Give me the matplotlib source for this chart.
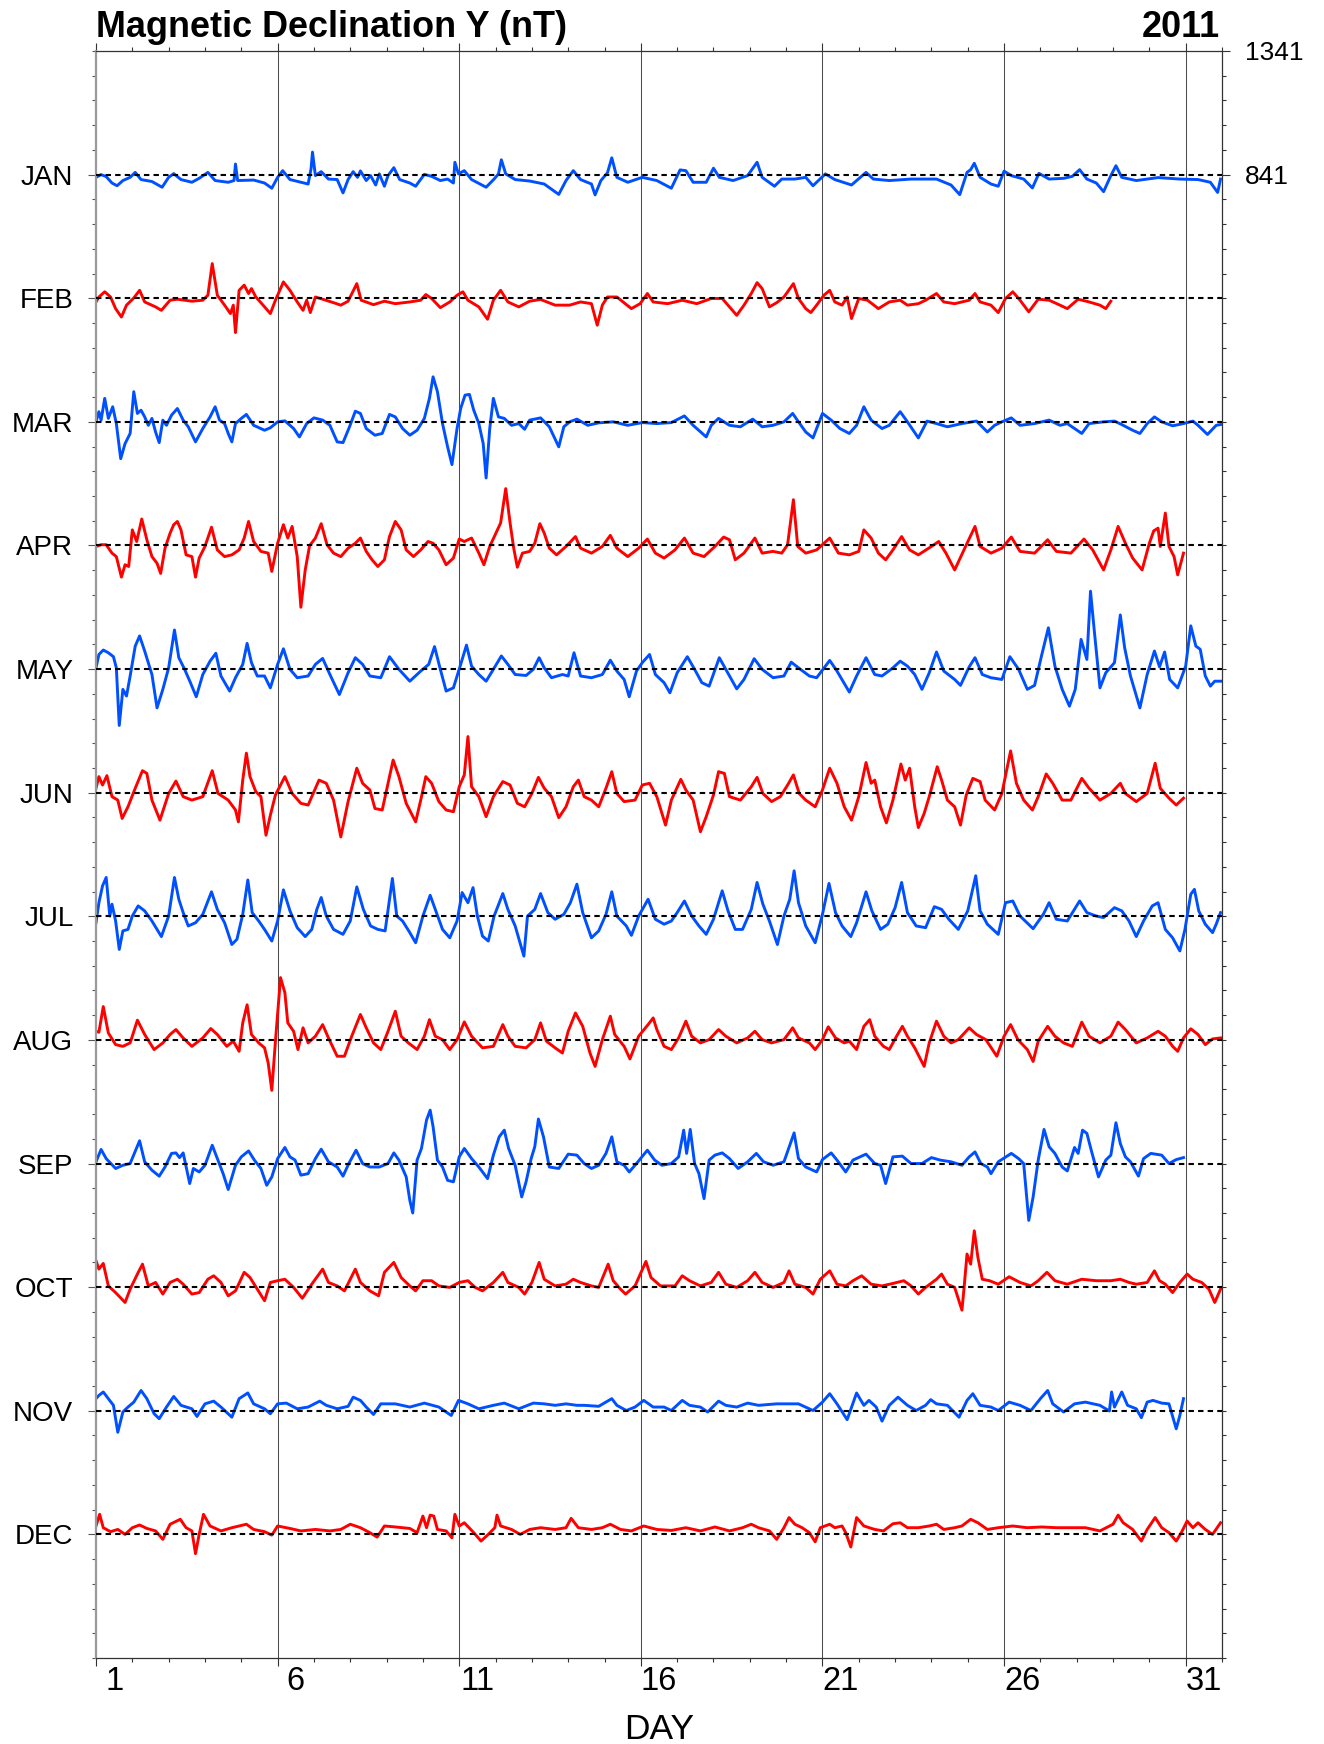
import numpy as np
import matplotlib
matplotlib.use("Agg")
import matplotlib.pyplot as plt
from matplotlib.ticker import FixedLocator
from matplotlib.transforms import blended_transform_factory

plt.rcParams['font.family'] = ['Liberation Sans', 'DejaVu Sans']

TITLE = "Magnetic Declination Y (nT)"
YEAR = "2011"
XLABEL = "DAY"
MONTHS = ["JAN", "FEB", "MAR", "APR", "MAY", "JUN",
          "JUL", "AUG", "SEP", "OCT", "NOV", "DEC"]
JAN_LEVEL = 841          # nT level of the JAN baseline (right axis label)
SPACING = 500            # nT between consecutive month baselines
RIGHT_LABELS = [1341, 841]
DAY_TICKS = [1, 6, 11, 16, 21, 26, 31]

# (day, deviation in nT from the month's baseline)
jan = [(1.00,-11),(1.14,0),(1.28,-8),(1.44,-34),(1.58,-45),(1.74,-24),(1.94,-11),(2.08,9),(2.24,-20),(2.54,-28),(2.82,-51),(3.00,-11),(3.14,4),(3.34,-20),(3.64,-31),(3.84,-15),(4.08,9),(4.28,-24),(4.64,-31),(4.80,-24),(4.84,43),(4.90,-24),(5.34,-22),(5.64,-34),(5.84,-55),(6.00,-11),(6.14,16),(6.34,-20),(6.84,-38),(6.92,23),(6.96,91),(7.04,-4),(7.20,12),(7.40,-18),(7.64,-20),(7.80,-74),(7.94,-20),(8.08,12),(8.20,-11),(8.28,15),(8.44,-24),(8.56,-4),(8.70,-42),(8.80,3),(8.94,-47),(9.04,-4),(9.20,28),(9.36,-20),(9.64,-34),(9.80,-47),(10.04,1),(10.24,-7),(10.48,-24),(10.68,-18),(10.84,-34),(10.88,50),(10.98,3),(11.14,16),(11.34,-20),(11.74,-51),(11.96,-18),(12.08,3),(12.16,60),(12.28,3),(12.54,-20),(12.94,-26),(13.34,-38),(13.74,-80),(13.94,-24),(14.14,16),(14.34,-20),(14.64,-38),(14.74,-82),(14.90,-24),(15.08,7),(15.20,68),(15.34,-11),(15.64,-31),(16.04,-11),(16.44,-24),(16.84,-55),(17.08,19),(17.24,16),(17.44,-31),(17.80,-31),(18.00,26),(18.16,-11),(18.54,-24),(18.94,-4),(19.20,50),(19.34,-11),(19.68,-47),(19.88,-18),(20.24,-18),(20.54,-11),(20.74,-45),(21.08,3),(21.34,-20),(21.80,-42),(22.20,9),(22.40,-18),(22.84,-24),(23.44,-18),(24.14,-18),(24.54,-42),(24.78,-81),(24.98,9),(25.08,20),(25.18,46),(25.34,-11),(25.64,-38),(25.84,-47),(26.00,14),(26.20,-4),(26.54,-18),(26.78,-54),(26.96,5),(27.24,-18),(27.64,-15),(27.88,-7),(28.08,20),(28.28,-18),(28.54,-34),(28.74,-69),(28.94,-4),(29.08,36),(29.24,-11),(29.64,-24),(30.24,-12),(30.84,-18),(31.34,-20),(31.68,-31),(31.88,-72),(31.96,-18)]
feb = [(1.00,-15),(1.08,5),(1.24,26),(1.40,5),(1.54,-42),(1.70,-76),(1.84,-28),(2.04,1),(2.20,32),(2.34,-15),(2.64,-35),(2.80,-49),(3.04,-8),(3.24,-4),(3.64,-12),(3.94,-8),(4.08,12),(4.20,140),(4.34,12),(4.54,-28),(4.70,-62),(4.78,-28),(4.84,-139),(4.94,32),(5.08,53),(5.20,19),(5.28,39),(5.40,5),(5.60,-28),(5.80,-62),(5.94,-8),(6.16,66),(6.34,32),(6.54,-15),(6.70,-49),(6.80,-8),(6.90,-58),(7.04,5),(7.24,-4),(7.54,-18),(7.74,-28),(7.94,-12),(8.18,59),(8.30,-8),(8.64,-26),(8.94,-12),(9.24,-22),(9.64,-15),(9.94,-8),(10.08,15),(10.24,-1),(10.48,-38),(10.74,-15),(10.94,12),(11.10,26),(11.24,-8),(11.54,-35),(11.78,-85),(11.94,-8),(12.14,32),(12.34,-15),(12.64,-35),(12.94,-12),(13.24,-5),(13.64,-28),(14.04,-28),(14.34,-15),(14.64,-22),(14.80,-109),(14.94,-28),(15.08,5),(15.34,5),(15.74,-42),(15.98,-22),(16.18,19),(16.34,-15),(16.74,-22),(17.14,-8),(17.54,-22),(17.94,-1),(18.24,-1),(18.44,-35),(18.64,-69),(18.84,-28),(19.04,19),(19.20,63),(19.34,39),(19.54,-35),(19.74,-18),(19.94,5),(20.20,59),(20.34,-1),(20.54,-42),(20.68,-58),(20.84,-28),(21.04,12),(21.20,32),(21.34,-15),(21.54,-28),(21.68,5),(21.80,-82),(22.00,-1),(22.24,-8),(22.54,-42),(22.84,-15),(23.14,-8),(23.34,-28),(23.64,-22),(23.84,-8),(24.14,19),(24.34,-15),(24.64,-22),(25.04,-8),(25.20,19),(25.34,-15),(25.64,-28),(25.84,-58),(26.04,-1),(26.24,26),(26.44,-8),(26.68,-55),(26.94,-4),(27.24,-8),(27.54,-28),(27.74,-42),(28.04,-4),(28.34,-15),(28.64,-28),(28.80,-42),(28.94,-12)]
mar = [(1.00,0),(1.08,41),(1.14,7),(1.24,95),(1.34,14),(1.46,61),(1.56,-7),(1.68,-149),(1.80,-88),(1.94,-47),(2.04,122),(2.14,34),(2.24,47),(2.34,20),(2.44,-14),(2.54,14),(2.64,-41),(2.74,-84),(2.84,7),(2.94,-14),(3.08,27),(3.24,54),(3.40,7),(3.54,-20),(3.74,-81),(3.94,-27),(4.14,20),(4.28,61),(4.40,7),(4.54,-7),(4.64,-47),(4.74,-81),(4.84,-7),(5.00,14),(5.14,30),(5.34,-14),(5.64,-34),(5.80,-24),(6.00,0),(6.20,4),(6.44,-27),(6.60,-61),(6.80,-7),(7.00,16),(7.24,7),(7.44,-14),(7.64,-81),(7.80,-84),(7.98,-20),(8.14,43),(8.28,34),(8.44,-27),(8.68,-54),(8.88,-47),(9.08,30),(9.24,20),(9.44,-27),(9.64,-54),(9.84,-34),(10.04,14),(10.18,95),(10.28,182),(10.40,122),(10.54,-7),(10.68,-101),(10.80,-173),(10.94,-27),(11.04,54),(11.16,108),(11.28,111),(11.40,47),(11.54,-7),(11.66,-88),(11.74,-227),(11.84,-27),(11.94,95),(12.08,20),(12.24,14),(12.44,-14),(12.64,-7),(12.80,-30),(12.94,7),(13.24,16),(13.48,-20),(13.74,-101),(13.88,-20),(14.04,0),(14.24,11),(14.54,-14),(14.84,-4),(15.24,0),(15.64,-14),(16.04,-3),(16.44,-7),(16.84,-3),(17.20,24),(17.44,-14),(17.80,-61),(17.94,-14),(18.14,14),(18.44,-14),(18.74,-20),(19.08,11),(19.34,-20),(19.64,-14),(19.94,0),(20.18,34),(20.34,0),(20.54,-41),(20.74,-65),(21.00,34),(21.24,7),(21.48,-27),(21.74,-47),(21.94,-14),(22.14,61),(22.34,7),(22.64,-27),(22.84,-14),(23.14,41),(23.34,0),(23.64,-65),(23.88,3),(24.14,-7),(24.44,-20),(24.84,-7),(25.24,3),(25.54,-41),(25.74,-14),(25.94,0),(26.20,16),(26.44,-14),(26.84,-7),(27.24,7),(27.54,-14),(27.74,-7),(28.14,-47),(28.34,-7),(28.74,0),(29.04,3),(29.24,-11),(29.54,-34),(29.74,-47),(29.94,-7),(30.14,20),(30.34,0),(30.64,-16),(30.94,-7),(31.20,3),(31.34,-14),(31.60,-51),(31.84,-14),(31.96,-11)]
apr = [(1.00,-4),(1.14,3),(1.28,3),(1.44,-31),(1.56,-45),(1.70,-128),(1.80,-78),(1.90,-85),(2.00,63),(2.12,16),(2.26,107),(2.40,23),(2.54,-45),(2.68,-72),(2.78,-113),(2.90,-11),(3.04,50),(3.14,84),(3.24,97),(3.34,63),(3.48,-38),(3.64,-45),(3.74,-128),(3.84,-51),(4.00,-4),(4.18,74),(4.34,-18),(4.54,-45),(4.74,-38),(4.94,-18),(5.08,30),(5.20,97),(5.34,16),(5.54,-24),(5.74,-31),(5.84,-105),(6.00,9),(6.16,84),(6.28,30),(6.40,77),(6.54,-45),(6.64,-250),(6.76,-99),(6.88,-1),(7.04,30),(7.20,88),(7.36,3),(7.54,-31),(7.74,-45),(7.94,-11),(8.14,9),(8.28,30),(8.44,-24),(8.60,-58),(8.76,-85),(8.94,-58),(9.08,36),(9.24,97),(9.40,63),(9.54,-18),(9.74,-45),(9.94,-18),(10.14,16),(10.28,9),(10.44,-18),(10.64,-78),(10.84,-51),(11.00,26),(11.14,16),(11.34,30),(11.54,-31),(11.68,-78),(11.84,-4),(12.14,91),(12.28,230),(12.40,91),(12.50,-11),(12.60,-88),(12.74,-31),(12.94,-24),(13.08,9),(13.22,88),(13.34,50),(13.48,-11),(13.68,-38),(13.94,-4),(14.20,36),(14.34,-11),(14.64,-31),(14.94,-4),(15.16,41),(15.34,-11),(15.64,-45),(15.94,-11),(16.18,26),(16.40,-31),(16.64,-51),(16.94,-18),(17.20,30),(17.44,-31),(17.74,-45),(18.04,-4),(18.28,34),(18.44,23),(18.60,-58),(18.84,-31),(19.14,30),(19.34,-31),(19.64,-24),(19.88,-31),(20.04,3),(20.20,185),(20.32,-4),(20.54,-31),(20.84,-18),(21.20,30),(21.44,-31),(21.74,-38),(22.00,-24),(22.14,63),(22.34,30),(22.54,-31),(22.74,-58),(22.94,-18),(23.18,36),(23.40,-18),(23.64,-38),(24.00,-4),(24.20,16),(24.40,-31),(24.64,-99),(24.94,-4),(25.20,77),(25.34,-4),(25.64,-31),(25.94,-11),(26.20,34),(26.44,-24),(26.84,-31),(27.20,23),(27.44,-24),(27.84,-31),(28.20,26),(28.44,-18),(28.74,-99),(28.94,-18),(29.14,77),(29.34,9),(29.54,-51),(29.80,-99),(30.00,9),(30.12,59),(30.24,70),(30.30,-4),(30.44,131),(30.54,-4),(30.68,-45),(30.78,-119),(30.94,-31)]
may = [(1.00,5),(1.08,59),(1.20,77),(1.34,66),(1.48,50),(1.56,5),(1.64,-228),(1.74,-82),(1.84,-109),(1.94,-28),(2.08,93),(2.20,134),(2.34,73),(2.54,-22),(2.68,-157),(2.84,-82),(3.00,5),(3.16,158),(3.28,46),(3.44,-1),(3.60,-55),(3.76,-112),(3.94,-22),(4.14,32),(4.30,64),(4.44,-28),(4.68,-89),(4.84,-35),(5.04,19),(5.16,104),(5.28,26),(5.44,-28),(5.64,-28),(5.80,-76),(6.00,19),(6.16,82),(6.34,-1),(6.54,-35),(6.84,-28),(7.04,19),(7.24,43),(7.44,-22),(7.70,-103),(7.94,-15),(8.14,46),(8.34,19),(8.54,-28),(8.84,-35),(9.08,50),(9.34,-1),(9.64,-49),(9.94,-8),(10.16,19),(10.32,91),(10.48,-1),(10.64,-89),(10.84,-76),(11.04,19),(11.20,97),(11.34,12),(11.54,-22),(11.74,-49),(11.94,-1),(12.16,53),(12.34,19),(12.54,-22),(12.84,-26),(13.04,-1),(13.20,46),(13.34,5),(13.54,-35),(13.84,-22),(14.00,-28),(14.16,66),(14.34,-28),(14.64,-35),(14.94,-22),(15.16,36),(15.34,-8),(15.54,-42),(15.68,-112),(15.88,-8),(16.04,26),(16.24,59),(16.40,-22),(16.64,-55),(16.80,-96),(17.00,-15),(17.28,50),(17.48,-1),(17.68,-55),(17.88,-69),(18.16,46),(18.34,-1),(18.64,-80),(18.84,-42),(19.12,42),(19.34,-1),(19.64,-35),(19.94,-28),(20.14,28),(20.34,5),(20.64,-28),(20.84,-35),(21.20,35),(21.40,-8),(21.74,-93),(21.94,-28),(22.20,46),(22.44,-22),(22.64,-28),(22.94,5),(23.14,32),(23.34,12),(23.54,-22),(23.74,-82),(23.94,-15),(24.14,69),(24.34,-8),(24.64,-42),(24.80,-66),(25.04,9),(25.20,46),(25.40,-22),(25.64,-35),(25.94,-42),(26.16,50),(26.40,-1),(26.64,-82),(26.84,-66),(27.04,59),(27.22,167),(27.40,12),(27.60,-82),(27.80,-150),(27.96,-82),(28.12,120),(28.28,39),(28.38,315),(28.48,161),(28.64,-76),(28.80,-15),(29.04,26),(29.20,219),(29.32,86),(29.48,-28),(29.74,-157),(29.94,-22),(30.14,73),(30.28,9),(30.42,69),(30.56,-42),(30.78,-76),(31.00,12),(31.14,175),(31.28,93),(31.40,80),(31.54,-28),(31.68,-69),(31.80,-49),(31.96,-49)]
jun = [(1.00,18),(1.08,65),(1.18,31),(1.30,69),(1.44,-16),(1.60,-30),(1.72,-104),(1.88,-57),(2.08,18),(2.28,89),(2.40,78),(2.54,-30),(2.76,-111),(3.00,-3),(3.20,47),(3.40,-16),(3.64,-30),(3.94,-16),(4.20,89),(4.36,-3),(4.64,-30),(4.84,-70),(4.92,-118),(5.04,51),(5.14,160),(5.24,65),(5.40,4),(5.54,-16),(5.68,-172),(5.80,-91),(5.94,-9),(6.20,65),(6.40,-3),(6.64,-43),(6.84,-50),(7.14,51),(7.34,38),(7.54,-30),(7.74,-179),(7.94,-36),(8.18,99),(8.34,38),(8.54,11),(8.68,-64),(8.88,-70),(9.18,132),(9.34,65),(9.54,-43),(9.80,-118),(9.94,-30),(10.08,65),(10.24,38),(10.44,-36),(10.64,-70),(10.84,-77),(11.00,24),(11.14,72),(11.24,227),(11.34,24),(11.54,-16),(11.74,-97),(11.94,-16),(12.20,45),(12.40,31),(12.60,-43),(12.80,-57),(13.00,-3),(13.18,62),(13.34,18),(13.54,-16),(13.74,-101),(13.94,-57),(14.14,24),(14.28,51),(14.44,-16),(14.64,-30),(14.84,-57),(15.04,18),(15.20,85),(15.34,-3),(15.54,-36),(15.84,-30),(16.04,31),(16.24,38),(16.44,-16),(16.68,-131),(16.84,-30),(17.10,54),(17.24,11),(17.44,-30),(17.64,-158),(17.80,-97),(18.00,-9),(18.14,85),(18.30,78),(18.44,-16),(18.74,-30),(19.04,24),(19.20,62),(19.36,-3),(19.60,-36),(19.84,-16),(20.04,31),(20.20,72),(20.36,-3),(20.54,-30),(20.80,-57),(21.00,11),(21.20,99),(21.40,38),(21.60,-57),(21.80,-111),(22.00,-16),(22.20,122),(22.34,38),(22.44,51),(22.60,-57),(22.76,-122),(22.94,-30),(23.16,116),(23.28,51),(23.40,99),(23.54,-57),(23.64,-141),(23.80,-84),(23.94,-16),(24.16,105),(24.28,51),(24.44,-30),(24.64,-57),(24.80,-131),(24.96,-9),(25.14,58),(25.34,45),(25.48,-30),(25.74,-70),(25.94,-3),(26.18,169),(26.34,38),(26.54,-30),(26.78,-70),(26.94,-16),(27.16,76),(27.34,38),(27.60,-30),(27.84,-30),(28.14,58),(28.34,18),(28.64,-30),(28.94,-3),(29.20,38),(29.34,-3),(29.64,-36),(29.94,-3),(30.16,119),(30.30,18),(30.54,-22),(30.74,-50),(30.94,-22)]
jul = [(1.00,-26),(1.08,55),(1.18,123),(1.28,157),(1.38,1),(1.44,49),(1.54,-19),(1.64,-134),(1.74,-59),(1.88,-53),(2.00,1),(2.16,42),(2.34,22),(2.54,-19),(2.80,-82),(3.00,1),(3.16,157),(3.28,69),(3.40,15),(3.54,-39),(3.74,-26),(3.94,8),(4.18,99),(4.34,28),(4.54,-26),(4.74,-114),(4.88,-93),(5.04,8),(5.18,147),(5.30,15),(5.48,-19),(5.64,-53),(5.84,-100),(6.00,-19),(6.16,107),(6.34,22),(6.54,-46),(6.76,-82),(6.94,-53),(7.08,28),(7.20,76),(7.34,1),(7.54,-53),(7.80,-73),(8.00,-19),(8.18,119),(8.36,28),(8.56,-39),(8.76,-53),(8.96,-59),(9.16,153),(9.28,1),(9.44,-19),(9.64,-66),(9.80,-107),(10.00,1),(10.20,85),(10.34,28),(10.54,-53),(10.74,-87),(10.94,-19),(11.08,96),(11.24,55),(11.38,116),(11.50,1),(11.64,-80),(11.80,-100),(11.96,1),(12.20,92),(12.34,28),(12.54,-39),(12.78,-161),(12.88,1),(13.08,28),(13.24,92),(13.44,15),(13.64,-12),(13.88,8),(14.06,55),(14.24,130),(14.40,15),(14.64,-87),(14.84,-59),(15.04,8),(15.20,99),(15.34,1),(15.60,-39),(15.74,-77),(15.94,1),(16.20,69),(16.40,-12),(16.64,-32),(16.84,-19),(17.00,15),(17.20,62),(17.40,1),(17.60,-39),(17.80,-73),(18.00,-12),(18.24,103),(18.40,22),(18.60,-53),(18.80,-53),(19.04,28),(19.20,137),(19.36,49),(19.54,-19),(19.76,-114),(19.94,1),(20.10,69),(20.22,184),(20.34,55),(20.54,-39),(20.80,-107),(21.00,8),(21.18,133),(21.36,15),(21.54,-39),(21.78,-82),(21.94,-26),(22.20,99),(22.36,22),(22.60,-53),(22.80,-32),(23.00,35),(23.18,137),(23.34,15),(23.58,-39),(23.84,-46),(24.08,39),(24.28,28),(24.48,-12),(24.74,-53),(25.00,22),(25.22,164),(25.34,22),(25.54,-32),(25.84,-73),(26.04,55),(26.24,62),(26.44,1),(26.80,-50),(27.08,8),(27.24,55),(27.44,-12),(27.74,-19),(28.08,62),(28.28,15),(28.54,1),(28.74,-5),(29.04,35),(29.24,22),(29.44,-19),(29.64,-82),(29.84,-19),(30.08,42),(30.24,55),(30.44,-53),(30.64,-87),(30.84,-140),(30.98,-53),(31.14,89),(31.24,109),(31.36,22),(31.54,-32),(31.74,-66),(31.84,-32),(31.96,15)]
aug = [(1.00,35),(1.08,31),(1.20,135),(1.34,28),(1.54,-19),(1.74,-26),(1.94,-12),(2.14,80),(2.34,22),(2.60,-39),(2.84,-12),(3.04,22),(3.20,42),(3.40,8),(3.64,-26),(3.94,8),(4.16,46),(4.34,22),(4.60,-26),(4.78,-5),(4.94,-46),(5.04,69),(5.16,142),(5.28,22),(5.48,-12),(5.64,-32),(5.74,-93),(5.84,-204),(5.94,-5),(6.08,252),(6.20,191),(6.28,69),(6.44,35),(6.56,-39),(6.70,49),(6.84,-12),(7.04,15),(7.24,62),(7.40,8),(7.64,-66),(7.84,-66),(8.04,15),(8.28,103),(8.44,49),(8.64,-12),(8.84,-39),(9.04,35),(9.24,116),(9.40,15),(9.60,-12),(9.84,-39),(10.04,15),(10.18,82),(10.34,15),(10.54,1),(10.74,-39),(10.94,1),(11.14,73),(11.34,15),(11.64,-32),(11.94,-26),(12.20,62),(12.34,15),(12.54,-26),(12.84,-32),(13.08,1),(13.24,69),(13.40,-5),(13.64,-32),(13.84,-53),(14.00,35),(14.20,109),(14.40,55),(14.60,-53),(14.74,-107),(14.94,1),(15.16,96),(15.28,22),(15.54,-26),(15.70,-77),(15.94,15),(16.20,62),(16.34,89),(16.44,42),(16.64,-26),(16.84,-39),(17.04,8),(17.24,76),(17.40,15),(17.64,-12),(17.88,1),(18.14,42),(18.34,15),(18.64,-12),(18.94,8),(19.14,35),(19.34,1),(19.60,-12),(19.94,1),(20.18,49),(20.34,8),(20.64,-12),(20.80,-39),(21.00,1),(21.16,53),(21.36,8),(21.60,-12),(21.74,-5),(21.94,-39),(22.14,55),(22.30,82),(22.44,15),(22.68,-26),(22.84,-39),(23.04,15),(23.20,55),(23.34,15),(23.54,-32),(23.80,-107),(23.94,-12),(24.14,76),(24.34,15),(24.54,-12),(24.74,1),(25.04,49),(25.24,22),(25.50,1),(25.80,-66),(26.00,15),(26.18,62),(26.38,1),(26.64,-39),(26.80,-87),(26.94,-5),(27.20,55),(27.40,15),(27.64,-12),(27.88,-26),(28.14,72),(28.34,15),(28.64,-12),(28.94,15),(29.14,72),(29.34,42),(29.64,-12),(29.94,8),(30.24,35),(30.44,15),(30.64,-26),(30.78,-46),(30.94,8),(31.14,45),(31.34,22),(31.54,-19),(31.74,4),(31.96,8)]
sep = [(1.00,7),(1.14,57),(1.28,20),(1.54,-20),(1.74,-7),(1.94,0),(2.20,92),(2.34,7),(2.54,-27),(2.74,-51),(2.90,-14),(3.08,41),(3.20,43),(3.30,24),(3.40,43),(3.58,-81),(3.68,-20),(3.84,-34),(4.00,-7),(4.20,74),(4.34,20),(4.50,-41),(4.64,-105),(4.84,-7),(5.00,27),(5.20,51),(5.36,14),(5.54,-20),(5.70,-88),(5.84,-54),(6.00,20),(6.20,65),(6.34,27),(6.48,14),(6.64,-47),(6.84,-41),(7.04,20),(7.20,58),(7.40,7),(7.64,-14),(7.80,-51),(7.96,0),(8.16,54),(8.34,0),(8.54,-14),(8.80,-14),(9.04,0),(9.20,43),(9.34,14),(9.54,-54),(9.64,-149),(9.72,-200),(9.84,14),(9.96,61),(10.10,176),(10.20,216),(10.28,149),(10.40,14),(10.54,-14),(10.68,-68),(10.84,-74),(11.00,27),(11.14,61),(11.34,20),(11.54,-14),(11.78,-61),(11.94,34),(12.10,108),(12.24,135),(12.36,61),(12.54,-7),(12.72,-135),(12.84,-74),(12.98,20),(13.08,68),(13.18,180),(13.32,108),(13.48,-14),(13.74,-20),(14.00,38),(14.24,34),(14.44,0),(14.64,-20),(14.84,-7),(15.04,41),(15.20,108),(15.34,7),(15.54,-7),(15.68,-34),(15.88,0),(16.18,54),(16.38,14),(16.58,-7),(16.84,0),(17.04,27),(17.18,135),(17.26,41),(17.36,138),(17.48,0),(17.60,-41),(17.74,-142),(17.88,14),(18.04,34),(18.24,43),(18.44,20),(18.68,-20),(18.94,7),(19.18,41),(19.38,7),(19.64,-7),(19.94,7),(20.22,124),(20.34,20),(20.54,-14),(20.84,-34),(21.00,16),(21.24,43),(21.40,14),(21.64,-34),(21.84,14),(22.20,38),(22.44,0),(22.60,-7),(22.74,-81),(22.94,27),(23.20,30),(23.44,0),(23.74,0),(24.00,24),(24.24,14),(24.54,7),(24.84,-7),(25.04,27),(25.20,47),(25.36,0),(25.54,-14),(25.64,-41),(25.84,7),(26.20,41),(26.40,20),(26.54,0),(26.68,-230),(26.80,-135),(26.94,14),(27.10,138),(27.24,68),(27.40,41),(27.60,-14),(27.74,-30),(27.94,65),(28.04,41),(28.16,135),(28.28,122),(28.40,54),(28.60,-54),(28.80,14),(28.94,34),(29.08,165),(29.20,81),(29.34,27),(29.48,7),(29.70,-51),(29.84,20),(30.04,41),(30.34,34),(30.54,0),(30.74,16),(30.94,24)]
oct_ = [(1.00,107),(1.08,73),(1.20,96),(1.34,5),(1.54,-22),(1.80,-62),(1.94,-8),(2.14,53),(2.28,93),(2.44,5),(2.64,19),(2.84,-28),(3.04,19),(3.24,32),(3.40,12),(3.64,-28),(3.84,-22),(4.08,32),(4.24,46),(4.44,19),(4.64,-35),(4.84,-15),(5.08,60),(5.24,39),(5.44,-8),(5.64,-55),(5.80,19),(6.00,26),(6.20,32),(6.44,-1),(6.68,-45),(6.94,12),(7.24,73),(7.40,19),(7.64,5),(7.84,-15),(8.00,32),(8.14,73),(8.28,19),(8.54,-15),(8.78,-35),(8.94,60),(9.20,100),(9.40,39),(9.64,5),(9.80,-15),(10.00,26),(10.24,26),(10.44,5),(10.74,-1),(11.00,19),(11.24,26),(11.44,-1),(11.64,-15),(11.94,19),(12.20,60),(12.34,19),(12.64,-1),(12.80,-28),(13.00,19),(13.20,100),(13.34,32),(13.64,5),(13.94,12),(14.14,32),(14.34,19),(14.64,5),(14.84,-1),(15.10,93),(15.24,26),(15.44,-8),(15.58,-28),(15.84,5),(16.14,104),(16.28,39),(16.54,5),(16.74,5),(16.94,5),(17.14,46),(17.34,26),(17.64,5),(17.94,19),(18.14,60),(18.34,12),(18.64,-1),(18.94,26),(19.14,60),(19.34,19),(19.64,-1),(19.94,19),(20.08,66),(20.24,12),(20.54,-1),(20.74,-28),(20.94,32),(21.20,66),(21.40,12),(21.64,5),(21.84,26),(22.08,46),(22.34,12),(22.64,5),(22.94,15),(23.24,26),(23.44,5),(23.64,-28),(23.84,-1),(24.14,32),(24.28,53),(24.44,12),(24.64,-1),(24.84,-93),(24.90,-1),(24.98,134),(25.08,93),(25.18,228),(25.28,120),(25.40,32),(25.60,26),(25.84,12),(26.14,42),(26.44,19),(26.74,5),(26.94,26),(27.18,60),(27.40,26),(27.74,12),(28.14,32),(28.54,26),(28.94,26),(29.20,32),(29.44,19),(29.64,12),(29.94,19),(30.14,66),(30.28,26),(30.44,12),(30.64,-22),(30.84,19),(31.04,53),(31.20,32),(31.44,19),(31.64,-8),(31.80,-62),(31.96,-8)]
nov = [(1.00,49),(1.08,62),(1.20,76),(1.34,49),(1.48,22),(1.60,-87),(1.74,-5),(1.88,15),(2.04,35),(2.24,82),(2.40,49),(2.60,-12),(2.74,-32),(2.94,15),(3.14,58),(3.34,22),(3.64,8),(3.78,-23),(4.00,28),(4.24,39),(4.44,15),(4.74,-26),(4.94,49),(5.18,72),(5.34,28),(5.64,8),(5.80,-12),(6.00,28),(6.24,31),(6.54,8),(6.84,15),(7.16,39),(7.34,22),(7.64,8),(7.94,18),(8.08,55),(8.28,42),(8.44,15),(8.64,-15),(8.84,28),(9.24,28),(9.64,15),(10.04,31),(10.44,15),(10.78,-19),(10.98,42),(11.24,28),(11.54,8),(11.94,22),(12.24,31),(12.64,8),(13.04,31),(13.34,28),(13.64,22),(13.94,28),(14.24,22),(14.44,22),(14.84,18),(15.20,49),(15.34,22),(15.60,1),(15.84,15),(16.08,42),(16.34,15),(16.64,15),(16.84,1),(17.14,42),(17.34,22),(17.64,15),(17.84,-5),(18.14,39),(18.34,22),(18.64,15),(18.94,31),(19.24,22),(19.74,28),(20.34,28),(20.74,1),(21.00,35),(21.20,69),(21.40,28),(21.68,-36),(21.94,72),(22.14,22),(22.28,42),(22.48,15),(22.64,-42),(22.84,22),(23.08,55),(23.34,22),(23.58,1),(23.84,22),(23.98,45),(24.14,28),(24.44,22),(24.76,-26),(24.98,42),(25.14,69),(25.34,22),(25.64,15),(25.84,1),(26.14,35),(26.44,22),(26.74,1),(27.00,49),(27.20,82),(27.34,28),(27.64,-5),(27.94,28),(28.24,35),(28.64,22),(28.90,-1),(28.96,76),(29.04,15),(29.24,76),(29.40,22),(29.64,8),(29.78,-28),(29.94,35),(30.10,42),(30.34,31),(30.54,28),(30.74,-73),(30.84,-19),(30.94,49)]
dec = [(1.00,34),(1.10,81),(1.20,27),(1.40,11),(1.60,20),(1.80,0),(2.00,27),(2.20,38),(2.40,24),(2.64,14),(2.84,-20),(3.04,41),(3.32,61),(3.48,27),(3.64,14),(3.74,-78),(3.84,0),(3.96,81),(4.14,34),(4.44,14),(4.74,27),(5.14,41),(5.34,20),(5.64,11),(5.84,-3),(6.00,34),(6.34,24),(6.64,14),(7.04,20),(7.44,14),(7.74,20),(8.00,41),(8.28,27),(8.54,7),(8.74,-11),(8.94,34),(9.24,30),(9.64,24),(9.84,7),(10.00,74),(10.10,27),(10.20,78),(10.30,74),(10.40,20),(10.64,14),(10.80,-14),(10.88,81),(11.00,34),(11.14,47),(11.40,7),(11.60,-27),(11.80,0),(11.98,27),(12.04,78),(12.14,34),(12.44,20),(12.68,0),(12.94,20),(13.24,27),(13.64,20),(13.94,27),(14.08,65),(14.28,27),(14.64,20),(14.94,27),(15.16,41),(15.44,20),(15.74,14),(16.08,34),(16.44,20),(16.84,16),(17.24,27),(17.64,14),(18.04,30),(18.44,14),(18.80,27),(19.04,41),(19.24,27),(19.54,14),(19.74,-20),(19.94,27),(20.08,68),(20.24,41),(20.44,27),(20.64,7),(20.80,-30),(20.94,27),(21.20,41),(21.34,27),(21.54,34),(21.64,7),(21.78,-51),(21.94,68),(22.14,34),(22.44,20),(22.68,14),(22.94,43),(23.14,47),(23.34,27),(23.64,27),(23.94,34),(24.14,41),(24.34,20),(24.64,27),(24.84,34),(25.08,61),(25.28,47),(25.54,20),(25.84,27),(26.24,34),(26.64,27),(27.04,30),(27.44,27),(27.84,27),(28.24,27),(28.64,14),(29.00,41),(29.14,78),(29.28,47),(29.54,20),(29.78,-27),(29.94,20),(30.16,68),(30.34,27),(30.54,7),(30.74,-27),(30.88,7),(31.04,54),(31.20,27),(31.34,47),(31.54,20),(31.74,0),(31.96,47)]

SERIES = [jan, feb, mar, apr, may, jun, jul, aug, sep, oct_, nov, dec]
COLORS = ["#0050ff", "#ff0000"]

W, H = 1324, 1744
fig = plt.figure(figsize=(W / 100, H / 100), dpi=100)
L, R, T, B = 96, 1222, 51, 1658
ax = fig.add_axes([L / W, 1 - B / H, (R - L) / W, (B - T) / H])

ymin = JAN_LEVEL - 12 * SPACING
ymax = JAN_LEVEL + SPACING
ax.set_xlim(1, 32)
ax.set_ylim(ymin, ymax)

bases = [JAN_LEVEL - i * SPACING for i in range(len(MONTHS))]

for d in DAY_TICKS[1:]:
    ax.axvline(d, color="#4d4d4d", lw=0.75, zorder=1)

for i, (data, base) in enumerate(zip(SERIES, bases)):
    arr = np.array(data, dtype=float)
    ax.plot(arr[:, 0], base + arr[:, 1], color=COLORS[i % 2], lw=2.1,
            solid_joinstyle="round", zorder=2)
    ax.axhline(base, color="black", lw=1.5, ls=(0, (2.6, 2.0)), zorder=3)

# axes styling
for s in ["top", "bottom"]:
    ax.spines[s].set_color("#333333")
    ax.spines[s].set_linewidth(0.9)
ax.spines["left"].set_color("#9a9a9a")
ax.spines["left"].set_linewidth(1.6)
ax.spines["right"].set_visible(False)

minor_y = np.arange(ymin, ymax + 1, 100)
ax.set_yticks(bases)
ax.set_yticklabels(MONTHS)
ax.yaxis.set_minor_locator(FixedLocator(minor_y))
ax.set_xticks(DAY_TICKS)
ax.set_xticklabels([])
ax.xaxis.set_minor_locator(FixedLocator(np.arange(1, 33)))
ax.tick_params(axis="y", which="major", direction="out", length=5.8, width=0.8,
               color="#555555", labelsize=20, pad=10.5, right=False)
ax.tick_params(axis="y", which="minor", direction="out", length=3.0, width=0.8,
               color="#555555", right=False)
ax.tick_params(axis="x", which="major", direction="out", length=5.5, width=0.8,
               color="#333333", top=True, bottom=True)
ax.tick_params(axis="x", which="minor", direction="out", length=3.0, width=0.8,
               color="#333333", top=True, bottom=True)

ax2 = ax.twinx()
ax2.set_ylim(ymin, ymax)
ax2.set_yticks(RIGHT_LABELS)
ax2.set_yticklabels([str(v) for v in RIGHT_LABELS])
ax2.yaxis.set_minor_locator(FixedLocator(minor_y))
for s in ["left", "top", "bottom"]:
    ax2.spines[s].set_visible(False)
ax2.spines["right"].set_color("#333333")
ax2.spines["right"].set_linewidth(0.9)
ax2.tick_params(axis="y", which="major", direction="out", length=5.8, width=0.8,
                color="#333333", labelsize=19, pad=11)
ax2.tick_params(axis="y", which="minor", direction="out", length=3.0, width=0.8,
                color="#333333")

# day labels centred on each labelled day
trans = blended_transform_factory(ax.transData, ax.transAxes)
for d in DAY_TICKS:
    ax.text(d + 0.5, -8 / (B - T), str(d), transform=trans, ha="center",
            va="top", fontsize=23.5)

fig.text((L + R) / 2 / W, 1 - 1739 / H, XLABEL, ha="center", va="baseline",
         fontsize=25.5)
fig.text(L / W, 1 - 37 / H, TITLE, ha="left", va="baseline", fontsize=25.9,
         fontweight="bold")
fig.text(1220 / W, 1 - 37 / H, YEAR, ha="right", va="baseline", fontsize=25.9,
         fontweight="bold")

fig.savefig("out.png", dpi=100)
